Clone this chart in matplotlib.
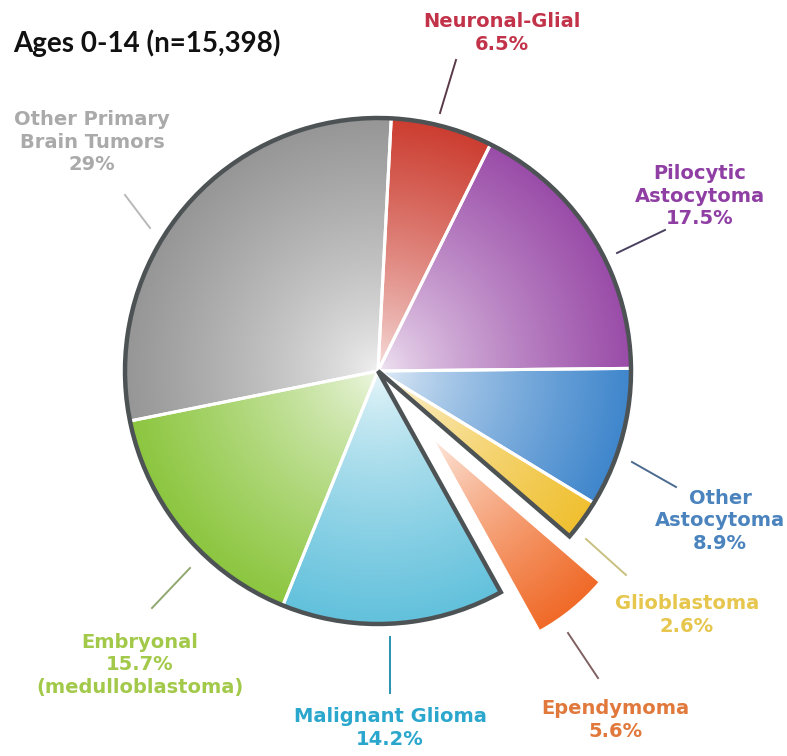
import numpy as np
import matplotlib.pyplot as plt
from matplotlib.patches import Wedge
from matplotlib.colors import to_rgb

# childhood brain tumour histology breakdown
names = ['Neuronal-Glial', 'Pilocytic\nAstocytoma', 'Other\nAstocytoma', 'Glioblastoma',
         'Ependymoma', 'Malignant Glioma', 'Embryonal', 'Other Primary\nBrain Tumors']
sizes = [6.5, 17.5, 8.9, 2.6, 5.6, 14.2, 15.7, 29.0]
notes = ['', '', '', '', '', '', '\n(medulloblastoma)', '']
title = 'Ages 0-14 (n=15,398)'

slice_colors = ['#cc3d30', '#9a4ca8', '#3f86cc', '#f0c030',
                '#f06a28', '#62c1dc', '#8cc63f', '#969696']
text_colors = ['#c2334a', '#8f3ea3', '#4a83bd', '#e6c64c',
               '#e0793b', '#2ba6cc', '#a3c94a', '#aaaaaa']
line_colors = ['#5a3a4a', '#4a4060', '#4a6a90', '#c8c080',
               '#806060', '#2a90b0', '#90a870', '#b8b8b8']

W, H = 787, 756


def py(y):
    return H - y


# label block centres and leader lines, in pixel coords (y down)
label_pos = [(502, 33), (700, 196), (720, 521), (687, 615),
             (615, 720), (390, 728), (140, 665), (92, 142)]
leaders = [((456, 60), (440, 113)), ((665, 230), (617, 253)),
           ((632, 462), (676, 487)), ((586, 539), (626, 575)),
           ((568, 633), (598, 678)), ((390, 637), (390, 693)),
           ((190, 568), (152, 608)), ((125, 195), (150, 228))]

fig = plt.figure(figsize=(W / 100, H / 100), dpi=100)
ax = fig.add_axes([0, 0, 1, 1])

cx, cy, R = 378, py(371), 253
explode = [0, 0, 0, 0, 0.36 * R, 0, 0, 0]
wedges, _ = ax.pie(sizes, explode=explode, startangle=87, counterclock=False,
                   center=(cx, cy), radius=R,
                   wedgeprops=dict(facecolor='none', edgecolor='white', linewidth=2.2))

# pulled-out slice is drawn a bit smaller
wedges[4].set_radius(0.85 * R)
wedges[4].set_linewidth(0)

g = np.linspace(-1, 1, 500)
X, Y = np.meshgrid(g, g)
t = np.clip(np.sqrt(X ** 2 + Y ** 2), 0, 1)
f = 0.12 + 0.88 * t ** 0.75

for w, c in zip(wedges, slice_colors):
    rgb = 1 - (1 - np.array(to_rgb(c)))[None, None, :] * f[..., None]
    wx, wy = w.center
    wr = w.r
    im = ax.imshow(rgb, extent=(wx - wr, wx + wr, wy - wr, wy + wr), origin='lower',
                   interpolation='bilinear', zorder=1)
    im.set_clip_path(w)
    w.set_zorder(2)

# dark outline around the pie body, following the gap
e = wedges[4]
ax.add_patch(Wedge((cx, cy), R, e.theta2, e.theta1 + 360, facecolor='none',
                   edgecolor='#4d5254', linewidth=3.2, joinstyle='miter', zorder=3))

for i in range(len(names)):
    txt = names[i] + '\n' + f'{sizes[i]:g}%' + notes[i]
    x, y = label_pos[i]
    ax.text(x, py(y), txt, ha='center', va='center', fontsize=14, fontweight='bold',
            family='DejaVu Sans', color=text_colors[i], linespacing=1.25)
    (x1, y1), (x2, y2) = leaders[i]
    ax.plot([x1, x2], [py(y1), py(y2)], color=line_colors[i], lw=1.4)

ax.text(13, py(43), title, ha='left', va='center', fontsize=20, fontweight='bold',
        family='Lato', color='#111111')

ax.set_xlim(0, W)
ax.set_ylim(0, H)
ax.axis('off')
fig.savefig('out.png', dpi=100)
